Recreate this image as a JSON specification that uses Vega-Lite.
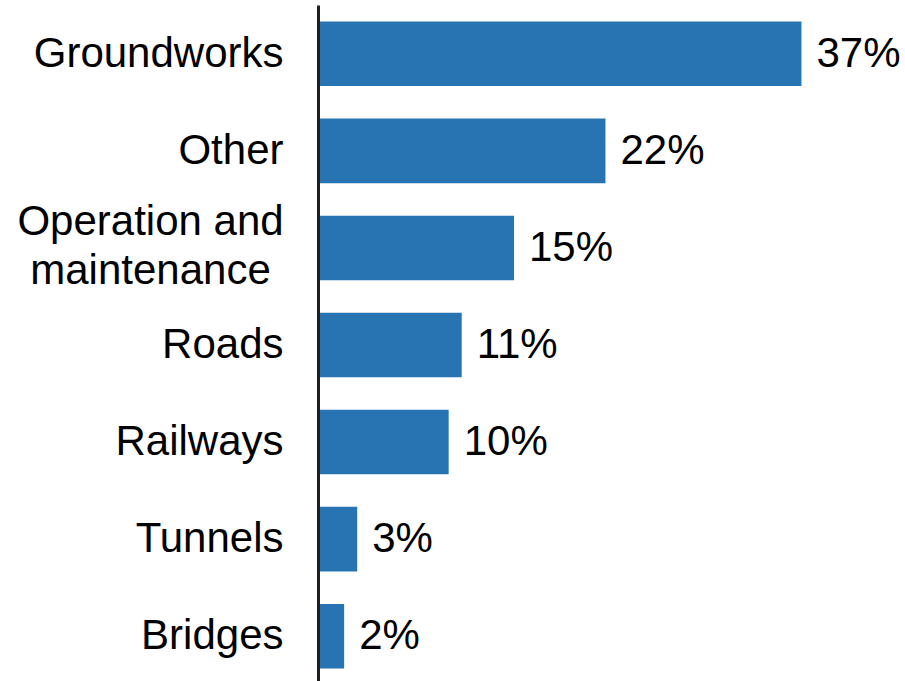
{
  "$schema": "https://vega.github.io/schema/vega-lite/v6.json",
  "width": 588,
  "height": 680,
  "autosize": {"type": "none"},
  "padding": {"left": 318, "top": 5, "right": 0, "bottom": 0},
  "background": "white",
  "config": {"view": {"stroke": null}, "font": "Liberation Sans"},
  "data": {
    "values": [
      {"category": "Groundworks", "value": 0.37},
      {"category": "Other", "value": 0.22},
      {"category": "Operation and maintenance", "value": 0.15},
      {"category": "Roads", "value": 0.11},
      {"category": "Railways", "value": 0.10},
      {"category": "Tunnels", "value": 0.03},
      {"category": "Bridges", "value": 0.02}
    ]
  },
  "encoding": {
    "y": {
      "field": "category",
      "type": "nominal",
      "sort": null,
      "scale": {"paddingInner": 0.335, "paddingOuter": 0.17},
      "axis": {
        "title": null,
        "ticks": false,
        "zindex": 1,
        "domainColor": "#231f20",
        "domainWidth": 3,
        "labelFont": "Liberation Sans",
        "labelFontSize": 42,
        "labelColor": "#000000",
        "labelPadding": {"condition": {"test": "datum.value == 'Operation and maintenance'", "value": 168}, "value": 35},
        "labelAlign": {"condition": {"test": "datum.value == 'Operation and maintenance'", "value": "center"}, "value": "right"},
        "labelLineHeight": 49,
        "labelLimit": 400,
        "labelOffset": {"condition": {"test": "datum.value == 'Operation and maintenance'", "value": -26}, "value": 0},
        "labelExpr": "datum.value == 'Operation and maintenance' ? ['Operation and', 'maintenance'] : datum.value"
      }
    },
    "x": {
      "field": "value",
      "type": "quantitative",
      "scale": {"domain": [0, 0.45], "nice": false},
      "axis": null
    }
  },
  "layer": [
    {"mark": {"type": "bar", "color": "#2874b2"}},
    {
      "mark": {"type": "text", "align": "left", "baseline": "middle", "dx": 15, "fontSize": 42, "font": "Liberation Sans", "color": "#000000"},
      "encoding": {"text": {"field": "value", "type": "quantitative", "format": ".0%"}}
    }
  ]
}
